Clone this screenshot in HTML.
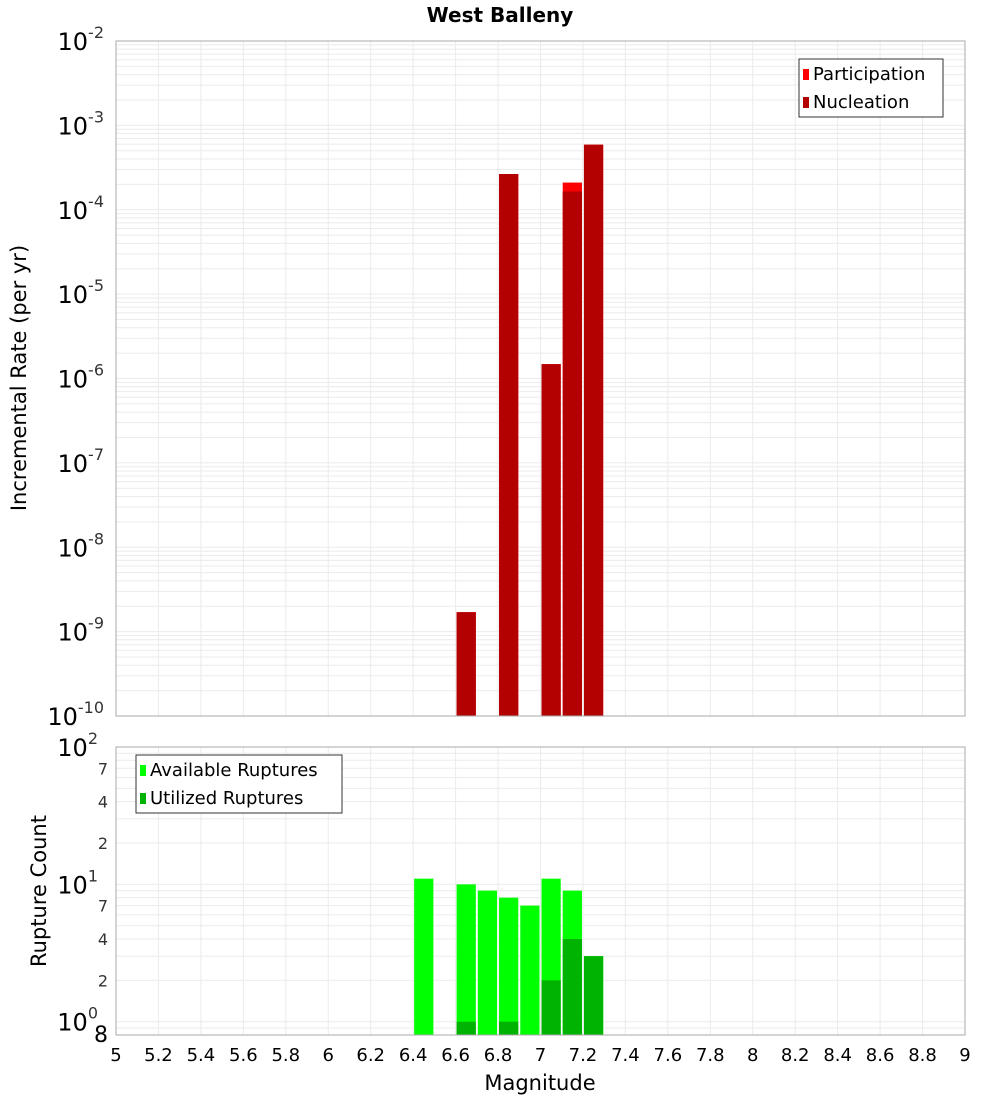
<!DOCTYPE html>
<html><head><meta charset="utf-8"><style>
body{margin:0;background:#fff;font-family:"DejaVu Sans","Liberation Sans",sans-serif}
svg text{font-family:"DejaVu Sans","Liberation Sans",sans-serif}
</style></head><body>
<svg id="c" width="1000" height="1100" xmlns="http://www.w3.org/2000/svg"></svg>
<script>
const topMags=[6.65,6.85,7.05,7.15,7.25];
const participation=[1.7e-9,2.65e-4,1.48e-6,2.1e-4,5.9e-4];
const nucleation=[1.7e-9,2.65e-4,1.48e-6,1.65e-4,5.9e-4];
const botMags=[6.45,6.65,6.75,6.85,6.95,7.05,7.15,7.25];
const available=[11,10,9,8,7,11,9,3];
const utilized=[0,1,0,1,0,2,4,3];
const xTicks=[5,5.2,5.4,5.6,5.8,6,6.2,6.4,6.6,6.8,7,7.2,7.4,7.6,7.8,8,8.2,8.4,8.6,8.8,9];
const topExps=[-2,-3,-4,-5,-6,-7,-8,-9,-10];
const botMinorLabels=[2,4,7,20,40,70];

const S=document.getElementById('c');const NS='http://www.w3.org/2000/svg';
function el(t,a,p){const e=document.createElementNS(NS,t);for(const k in a)e.setAttribute(k,a[k]);(p||S).appendChild(e);return e;}
const L=116,R=965;
const xs=v=>L+(v-5)/(9-5)*(R-L);
const T0=41,T1=716;const ty=v=>T0+(-2-Math.log10(v))/8*(T1-T0);
const B0=747,B1=1035;const bmin=Math.log10(0.8),bmax=2;const by=v=>B0+(bmax-Math.log10(v))/(bmax-bmin)*(B1-B0);

// grids
const gT=el('g',{});
for(let e=-10;e<-2;e++)for(let m=1;m<10;m++){const y=ty(m*Math.pow(10,e));el('line',{x1:L,x2:R,y1:y,y2:y,stroke:'#ebebeb','stroke-width':1},gT);}
const gB=el('g',{});
[0.8,0.9,1,2,3,4,5,6,7,8,9,10,20,30,40,50,60,70,80,90].forEach(v=>{const y=by(v);el('line',{x1:L,x2:R,y1:y,y2:y,stroke:'#ebebeb','stroke-width':1},gB);});
xTicks.forEach(v=>{const x=xs(v);el('line',{x1:x,x2:x,y1:T0,y2:T1,stroke:'#ebebeb'},gT);el('line',{x1:x,x2:x,y1:B0,y2:B1,stroke:'#ebebeb'},gB);});

// top bars
const bw=(R-L)/40-2;
const gp=el('g',{});
topMags.forEach((m,i)=>{const y=ty(participation[i]);const r=el('rect',{x:xs(m)-bw/2,y:y,width:bw,height:T1-y,fill:'#ff0000'},gp);
});
const gn=el('g',{});
topMags.forEach((m,i)=>{const y=ty(nucleation[i]);const r=el('rect',{x:xs(m)-bw/2,y:y,width:bw,height:T1-y,fill:'#b30000'},gn);
});
// bottom bars
const ga=el('g',{});
botMags.forEach((m,i)=>{if(available[i]<=0)return;const y=by(available[i]);const r=el('rect',{x:xs(m)-bw/2,y:y,width:bw,height:B1-y,fill:'#00ff00'},ga);
});
const gu=el('g',{});
botMags.forEach((m,i)=>{if(utilized[i]<=0)return;const y=by(utilized[i]);const r=el('rect',{x:xs(m)-bw/2,y:y,width:bw,height:B1-y,fill:'#00b300'},gu);
});

// frames
el('rect',{x:L,y:T0,width:R-L,height:T1-T0,fill:'none',stroke:'#aaa'});
el('rect',{x:L,y:B0,width:R-L,height:B1-B0,fill:'none',stroke:'#aaa'});

// top y labels
topExps.forEach(e=>{const y=ty(Math.pow(10,e));const t=el('text',{x:104,y:y+9,'font-size':24,'text-anchor':'end',fill:'#000'});

t.textContent='10';const s=el('tspan',{dy:-12,'font-size':16,fill:'#333'},t);s.textContent=String(e);});
// bottom y labels
[[100,'2'],[10,'1'],[1,'0']].forEach(([v,e])=>{const y=by(v);const t=el('text',{x:98,y:y+9,'font-size':24,'text-anchor':'end'});

t.textContent='10';const s=el('tspan',{dy:-12,'font-size':16,fill:'#333'},t);s.textContent=e;});
botMinorLabels.forEach(v=>{const y=by(v);const t=el('text',{x:108,y:y+6,'font-size':16,'text-anchor':'end',fill:'#333'});
t.textContent=String(String(v)[0]);});
{const t=el('text',{x:108,y:1042,'font-size':22,'text-anchor':'end'});t.textContent='8';}
// x labels
xTicks.forEach(v=>{const t=el('text',{x:xs(v),y:1061,'font-size':18,'text-anchor':'middle'});
t.textContent=String(v);});

// titles
let t=el('text',{x:500,y:22,'font-size':20,'font-weight':'bold','text-anchor':'middle'});t.textContent='West Balleny';
t=el('text',{x:540,y:1090,'font-size':21,'text-anchor':'middle'});t.textContent='Magnitude';
t=el('text',{x:0,y:0,'font-size':21,'text-anchor':'middle',transform:'translate(26,378) rotate(-90)'});t.textContent='Incremental Rate (per yr)';
t=el('text',{x:0,y:0,'font-size':21,'text-anchor':'middle',transform:'translate(46,891) rotate(-90)'});t.textContent='Rupture Count';

// legends
function legend(x,y,w,items,name){const g=el('g',{});
el('rect',{x:x,y:y,width:w,height:58,fill:'#fff',stroke:'#333'},g);
items.forEach(([c,l],i)=>{el('rect',{x:x+4,y:y+10+i*28,width:6,height:11,fill:c},g);const tt=el('text',{x:x+14,y:y+21+i*28,'font-size':18},g);
tt.textContent=l;});}
legend(799,59,144,[['#ff0000','Participation'],['#b30000','Nucleation']],'top-legend');
legend(136,755,206,[['#00ff00','Available Ruptures'],['#00b300','Utilized Ruptures']],'bottom-legend');
</script>
</body></html>
